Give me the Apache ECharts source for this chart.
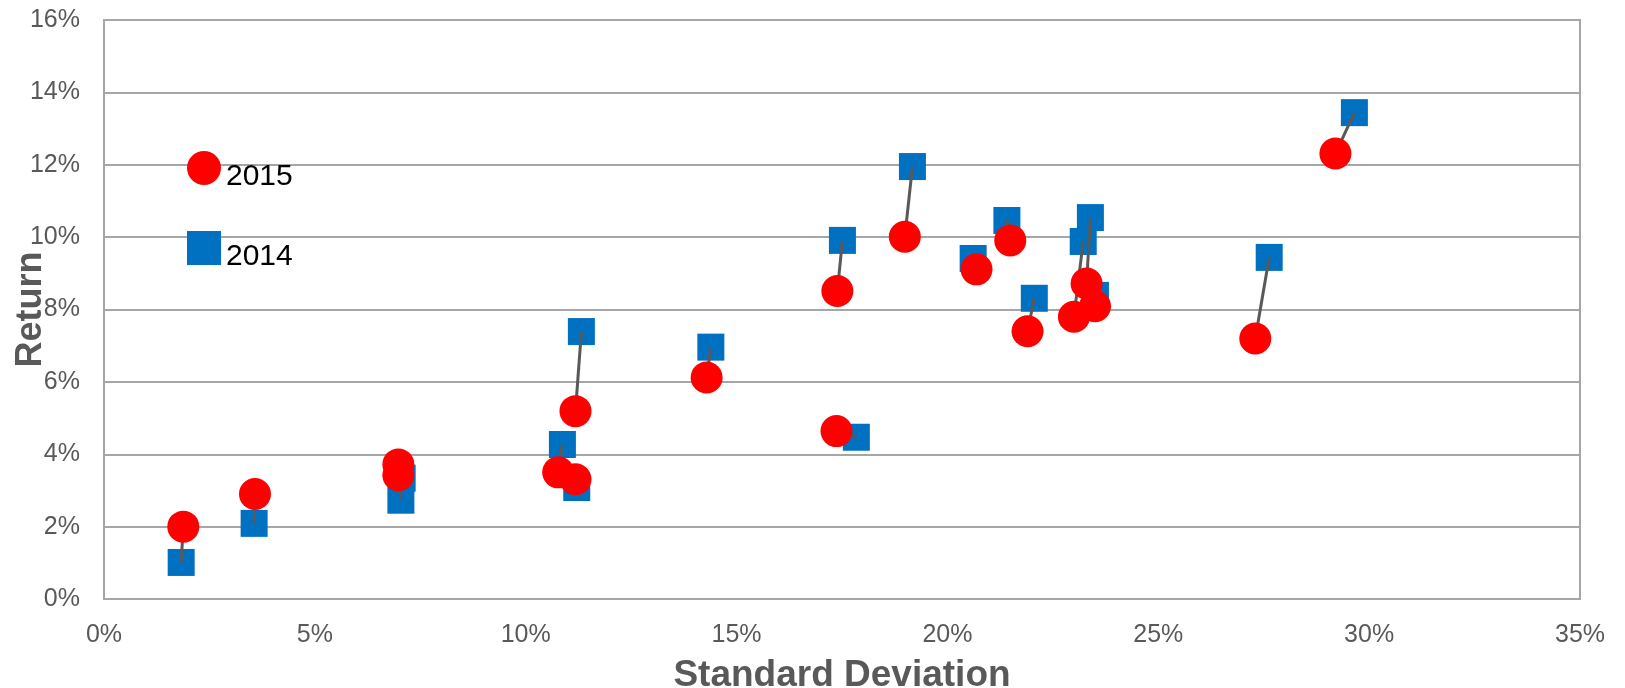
<!DOCTYPE html>
<html>
<head>
<meta charset="utf-8">
<script src="https://cdn.jsdelivr.net/npm/echarts@6/dist/echarts.min.js"></script>
<style>
html,body{margin:0;padding:0;background:#fff;}
#c{width:1625px;height:688px;}
</style>
</head>
<body>
<div id="c"></div>
<script>
// 2015 (red circles) and 2014 (blue squares), paired by index
const sd2015  = [1.88, 3.58, 6.98, 6.98, 10.77, 11.18, 11.18, 14.29, 17.39, 18.99, 17.37, 20.69, 21.49, 21.90, 23.30, 23.00, 23.50, 27.30, 29.20];
const ret2015 = [2.00, 2.90, 3.72, 3.42, 3.50, 3.31, 5.19, 6.12, 8.51, 10.01, 4.64, 9.11, 9.91, 7.40, 8.72, 7.80, 8.09, 7.20, 12.31];
const sd2014  = [1.83, 3.56, 7.07, 7.04, 10.87, 11.21, 11.32, 14.39, 17.51, 19.17, 17.84, 20.61, 21.41, 22.06, 23.39, 23.22, 23.51, 27.63, 29.65];
const ret2014 = [1.01, 2.09, 3.34, 2.73, 4.27, 3.08, 7.39, 6.96, 9.91, 11.95, 4.47, 9.41, 10.46, 8.31, 10.54, 9.88, 8.39, 9.44, 13.44];
const seriesNames = ['2015', '2014'];
const xTitle = 'Standard Deviation';
const yTitle = 'Return';

const pts2015 = sd2015.map((x, i) => [x, ret2015[i]]);
const pts2014 = sd2014.map((x, i) => [x, ret2014[i]]);
const links = sd2015.map((x, i) => ({coords: [[sd2014[i], ret2014[i]], [x, ret2015[i]]]}));

const chart = echarts.init(document.getElementById('c'), null, {renderer: 'canvas'});
const font = '"Liberation Sans", Arial, sans-serif';
chart.setOption({
  animation: false,
  backgroundColor: '#ffffff',
  textStyle: {fontFamily: font},
  grid: {left: 104, right: 45, top: 20, bottom: 89, show: true, borderColor: '#a6a6a6', borderWidth: 2,
         backgroundColor: 'transparent', containLabel: false, outerBoundsMode: 'none'},
  legend: {
    orient: 'vertical',
    left: 182, top: 146,
    itemWidth: 34, itemHeight: 34,
    itemGap: 39,
    data: [{name: seriesNames[0], icon: 'circle'}, {name: seriesNames[1], icon: 'rect'}],
    formatter: '{t|{name}}',
    textStyle: {fontSize: 30, color: '#000', fontFamily: font,
      rich: {t: {fontSize: 30, color: '#000', fontFamily: font, padding: [18, 0, 0, 0]}}},
    selectedMode: false
  },
  xAxis: {
    type: 'value', min: 0, max: 35, interval: 5,
    name: xTitle, nameLocation: 'middle', nameGap: 58, nameMoveOverlap: false,
    nameTextStyle: {fontSize: 37, fontWeight: 'bold', color: '#595959', fontFamily: font},
    axisLine: {show: true, lineStyle: {color: '#a6a6a6', width: 2}},
    axisTick: {show: false},
    splitLine: {show: false},
    axisLabel: {formatter: '{value}%', fontSize: 25, color: '#595959', margin: 24, fontFamily: font}
  },
  yAxis: {
    type: 'value', min: 0, max: 16, interval: 2,
    name: yTitle, nameLocation: 'middle', nameGap: 55, nameMoveOverlap: false,
    nameTextStyle: {fontSize: 36, fontWeight: 'bold', color: '#595959', fontFamily: font},
    axisLine: {show: true, lineStyle: {color: '#a6a6a6', width: 2}},
    axisTick: {show: false},
    splitLine: {show: true, lineStyle: {color: '#a6a6a6', width: 2}},
    axisLabel: {formatter: '{value}%', fontSize: 25, color: '#595959', margin: 24, fontFamily: font}
  },
  series: [
    {
      name: seriesNames[1], type: 'scatter', symbol: 'rect', symbolSize: 27,
      itemStyle: {color: '#0070c0', opacity: 1}, data: pts2014, z: 2, silent: true
    },
    {
      name: 'links', type: 'lines', coordinateSystem: 'cartesian2d',
      lineStyle: {color: '#595959', width: 3, opacity: 1}, data: links, z: 3, silent: true
    },
    {
      name: seriesNames[0], type: 'scatter', symbol: 'circle', symbolSize: 32,
      itemStyle: {color: '#ff0000', opacity: 1}, data: pts2015, z: 4, silent: true
    }
  ]
});
</script>
</body>
</html>
